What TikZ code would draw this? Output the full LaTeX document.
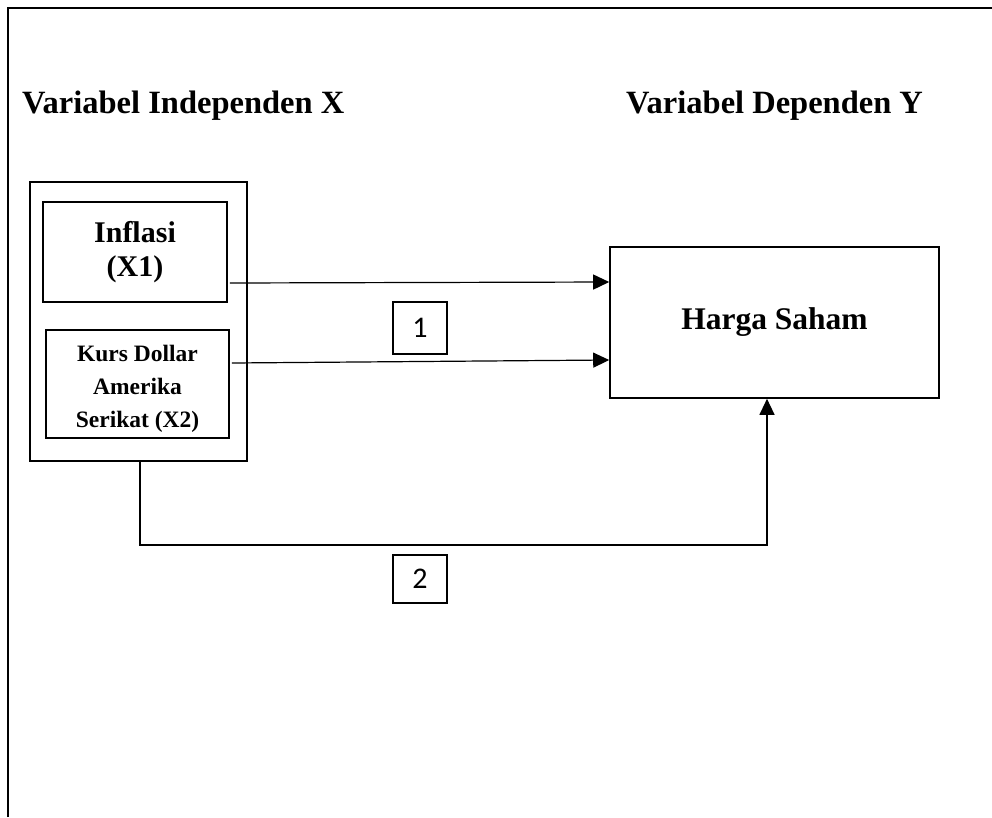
\documentclass[tikz,border=0pt]{standalone}
\usepackage{fontspec}
\setmainfont{Liberation Serif}
\newfontfamily\numfont{Carlito}
\usetikzlibrary{arrows.meta}
\begin{document}
\begin{tikzpicture}[x=1pt,y=-1pt,
  box/.style={draw=black,line width=1.6pt,inner sep=0pt,align=center},
  numbox/.style={draw=black,line width=1.2pt,inner sep=0pt,font=\numfont\fontsize{30}{32}\selectfont},
  link/.style={line width=1.2pt,-{Triangle[length=16pt,width=15pt]}},
  title/.style={anchor=base west,inner sep=0pt,font=\bfseries\fontsize{32.5}{38}\selectfont}]
\useasboundingbox (0,0) rectangle (992,817);
% page frame
\draw[line width=1.6pt] (8,817) -- (8,8) -- (992,8);
% headings
\node[title] (tx) at (22,113) {Variabel Independen X};
\node[title] (ty) at (626,113) {Variabel Dependen Y};
% independent variables
\node[box,minimum width=217pt,minimum height=279pt] (outer) at (138.5,321.5) {};
\node[box,minimum width=184pt,minimum height=100pt,font=\bfseries\fontsize{30}{34}\selectfont] (inflasi) at (135,252) {Inflasi\\(X1)};
\node[box,minimum width=183pt,minimum height=108pt] (kurs) at (137.5,384) {};
\node[align=center,inner sep=0pt,font=\bfseries\fontsize{23.5}{33}\selectfont] (kurstext) at ([yshift=-5pt]kurs.center) {Kurs Dollar\\Amerika\\Serikat (X2)};
% dependent variable
\node[box,minimum width=329pt,minimum height=151pt,font=\bfseries\fontsize{31.5}{38}\selectfont] (harga) at (774.5,322.5) {Harga Saham};
% path labels
\node[numbox,minimum width=54pt,minimum height=52pt] (n1) at (420,328) {1};
\node[numbox,minimum width=54pt,minimum height=48pt] (n2) at (420,579) {2};
\coordinate (low) at (0,545);
% connectors
\draw[link] ([xshift=2pt,yshift=-31pt]inflasi.east) -- ([yshift=40.5pt]harga.west);
\draw[link] ([xshift=2pt,yshift=21pt]kurs.east) -- ([yshift=-37.5pt]harga.west);
\draw[link] ([xshift=1.5pt]outer.south) -- ([xshift=1.5pt]outer.south |- low) -| ([xshift=-7.5pt]harga.south);
\end{tikzpicture}
\end{document}
